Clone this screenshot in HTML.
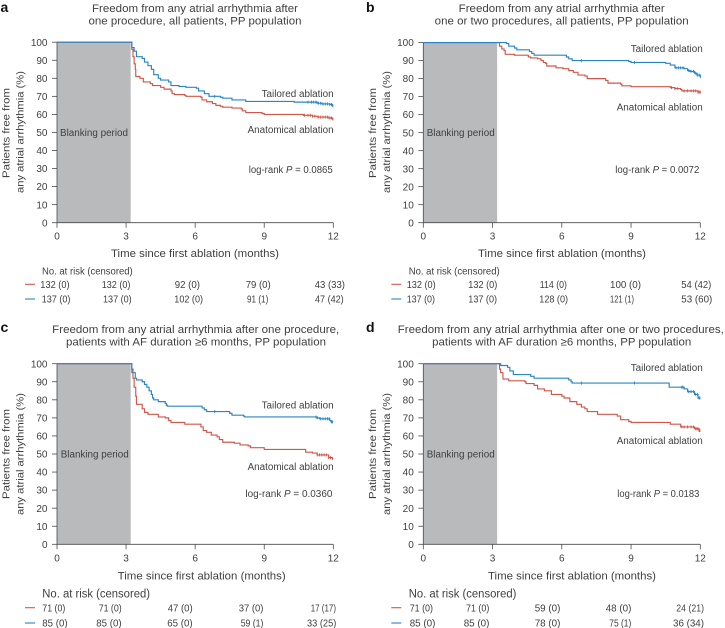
<!DOCTYPE html>
<html lang="en">
<head>
<meta charset="utf-8">
<title>Freedom from any atrial arrhythmia</title>
<style>
html,body{margin:0;padding:0;background:#fff;width:725px;height:628px;overflow:hidden}
svg{display:block}
text{font-family:"Liberation Sans",sans-serif;fill:#3f4042;font-size:10px}
.title{font-size:11px;text-anchor:middle}
.axt{font-size:11px;text-anchor:middle}
.ytl{font-size:10.5px;text-anchor:middle}
.ann{font-size:10px;text-anchor:end}
.bp{font-size:10px;text-anchor:middle}
.let{font-size:14px;font-weight:bold;fill:#111}
.risk{font-size:10px}
.riskb{font-size:10.5px}
</style>
</head>
<body>
<svg id="fig" xmlns="http://www.w3.org/2000/svg" width="725" height="628" viewBox="0 0 725 628">
<g id="panel-a">
<text class="let" x="0.5" y="12">a</text>
<text class="title" x="195" y="12" textLength="206" lengthAdjust="spacingAndGlyphs">Freedom from any atrial arrhythmia after</text>
<text class="title" x="195" y="24.5" textLength="213" lengthAdjust="spacingAndGlyphs">one procedure, all patients, PP population</text>
<text class="axt" x="195" y="257" textLength="168" lengthAdjust="spacingAndGlyphs">Time since first ablation (months)</text>
<text class="ytl" transform="translate(9.5,133) rotate(-90)" textLength="90" lengthAdjust="spacingAndGlyphs">Patients free from</text>
<text class="ytl" transform="translate(23.5,132) rotate(-90)" textLength="122" lengthAdjust="spacingAndGlyphs">any atrial arrhythmia (%)</text>
<text class="ann" x="333.6" y="97" textLength="72" lengthAdjust="spacingAndGlyphs">Tailored ablation</text>
<text class="ann" x="333.6" y="133" textLength="86" lengthAdjust="spacingAndGlyphs">Anatomical ablation</text>
<text class="ann" x="332.7" y="173" textLength="84" lengthAdjust="spacingAndGlyphs">log-rank <tspan font-style="italic">P</tspan> = 0.0865</text>
<text class="risk" x="42" y="274.5" textLength="90.7" lengthAdjust="spacingAndGlyphs">No. at risk (censored)</text>
<line x1="25" x2="35" y1="284.3" y2="284.3" stroke="#d0574a" stroke-width="1.1"/>
<line x1="25" x2="35" y1="299" y2="299" stroke="#2a85c6" stroke-width="1.1"/>
<text class="risk" x="40.3" y="288" textLength="29.3" lengthAdjust="spacingAndGlyphs">132 (0)</text>
<text class="risk" x="101.7" y="288" textLength="28.7" lengthAdjust="spacingAndGlyphs">132 (0)</text>
<text class="risk" x="174.7" y="288" textLength="25.3" lengthAdjust="spacingAndGlyphs">92 (0)</text>
<text class="risk" x="245.7" y="288" textLength="25" lengthAdjust="spacingAndGlyphs">79 (0)</text>
<text class="risk" x="314.7" y="288" textLength="30.3" lengthAdjust="spacingAndGlyphs">43 (33)</text>
<text class="risk" x="41.7" y="302.5" textLength="28.7" lengthAdjust="spacingAndGlyphs">137 (0)</text>
<text class="risk" x="103" y="302.5" textLength="28.7" lengthAdjust="spacingAndGlyphs">137 (0)</text>
<text class="risk" x="174.3" y="302.5" textLength="28.7" lengthAdjust="spacingAndGlyphs">102 (0)</text>
<text class="risk" x="247" y="302.5" textLength="21.3" lengthAdjust="spacingAndGlyphs">91 (1)</text>
<text class="risk" x="315" y="302.5" textLength="28.7" lengthAdjust="spacingAndGlyphs">47 (42)</text>
</g>
<g id="panel-b">
<text class="let" x="366" y="12">b</text>
<text class="title" x="561.7" y="12" textLength="206" lengthAdjust="spacingAndGlyphs">Freedom from any atrial arrhythmia after</text>
<text class="title" x="561.7" y="24.5" textLength="254" lengthAdjust="spacingAndGlyphs">one or two procedures, all patients, PP population</text>
<text class="axt" x="562" y="257" textLength="168" lengthAdjust="spacingAndGlyphs">Time since first ablation (months)</text>
<text class="ytl" transform="translate(376,133) rotate(-90)" textLength="90" lengthAdjust="spacingAndGlyphs">Patients free from</text>
<text class="ytl" transform="translate(390,132) rotate(-90)" textLength="122" lengthAdjust="spacingAndGlyphs">any atrial arrhythmia (%)</text>
<text class="ann" x="702.7" y="52" textLength="72" lengthAdjust="spacingAndGlyphs">Tailored ablation</text>
<text class="ann" x="702.7" y="110.5" textLength="86" lengthAdjust="spacingAndGlyphs">Anatomical ablation</text>
<text class="ann" x="699.3" y="173" textLength="84" lengthAdjust="spacingAndGlyphs">log-rank <tspan font-style="italic">P</tspan> = 0.0072</text>
<text class="risk" x="408.7" y="274.5" textLength="91" lengthAdjust="spacingAndGlyphs">No. at risk (censored)</text>
<line x1="391.3" x2="401.3" y1="284.3" y2="284.3" stroke="#d0574a" stroke-width="1.1"/>
<line x1="391.3" x2="401.3" y1="299" y2="299" stroke="#2a85c6" stroke-width="1.1"/>
<text class="risk" x="406.7" y="288" textLength="29" lengthAdjust="spacingAndGlyphs">132 (0)</text>
<text class="risk" x="468.3" y="288" textLength="29" lengthAdjust="spacingAndGlyphs">132 (0)</text>
<text class="risk" x="539.7" y="288" textLength="27.3" lengthAdjust="spacingAndGlyphs">114 (0)</text>
<text class="risk" x="610" y="288" textLength="31" lengthAdjust="spacingAndGlyphs">100 (0)</text>
<text class="risk" x="681.3" y="288" textLength="30" lengthAdjust="spacingAndGlyphs">54 (42)</text>
<text class="risk" x="406.7" y="302.5" textLength="28.3" lengthAdjust="spacingAndGlyphs">137 (0)</text>
<text class="risk" x="468.3" y="302.5" textLength="28.7" lengthAdjust="spacingAndGlyphs">137 (0)</text>
<text class="risk" x="539.3" y="302.5" textLength="28.7" lengthAdjust="spacingAndGlyphs">128 (0)</text>
<text class="risk" x="610" y="302.5" textLength="24" lengthAdjust="spacingAndGlyphs">121 (1)</text>
<text class="risk" x="681.3" y="302.5" textLength="31" lengthAdjust="spacingAndGlyphs">53 (60)</text>
</g>
<g id="panel-c">
<text class="let" x="0.5" y="332">c</text>
<text class="title" x="195.7" y="333" textLength="287" lengthAdjust="spacingAndGlyphs">Freedom from any atrial arrhythmia after one procedure,</text>
<text class="title" x="196" y="345.7" textLength="260" lengthAdjust="spacingAndGlyphs">patients with AF duration ≥6 months, PP population</text>
<text class="axt" x="201.7" y="579.5" textLength="168" lengthAdjust="spacingAndGlyphs">Time since first ablation (months)</text>
<text class="ytl" transform="translate(9.5,454) rotate(-90)" textLength="90" lengthAdjust="spacingAndGlyphs">Patients free from</text>
<text class="ytl" transform="translate(23.5,454) rotate(-90)" textLength="122" lengthAdjust="spacingAndGlyphs">any atrial arrhythmia (%)</text>
<text class="ann" x="333.6" y="408.5" textLength="72" lengthAdjust="spacingAndGlyphs">Tailored ablation</text>
<text class="ann" x="333.6" y="470" textLength="86" lengthAdjust="spacingAndGlyphs">Anatomical ablation</text>
<text class="ann" x="332.4" y="497" textLength="87" lengthAdjust="spacingAndGlyphs">log-rank  <tspan font-style="italic">P</tspan> = 0.0360</text>
<text class="riskb" x="42.3" y="597.5" textLength="107.7" lengthAdjust="spacingAndGlyphs" style="font-size:11.5px">No. at risk (censored)</text>
<line x1="25" x2="35" y1="607.7" y2="607.7" stroke="#d0574a" stroke-width="1.1"/>
<line x1="25" x2="35" y1="623" y2="623" stroke="#2a85c6" stroke-width="1.1"/>
<text class="riskb" x="42.3" y="611.5" textLength="23" lengthAdjust="spacingAndGlyphs">71 (0)</text>
<text class="riskb" x="98.7" y="611.5" textLength="23" lengthAdjust="spacingAndGlyphs">71 (0)</text>
<text class="riskb" x="167.7" y="611.5" textLength="25" lengthAdjust="spacingAndGlyphs">47 (0)</text>
<text class="riskb" x="238.7" y="611.5" textLength="24.7" lengthAdjust="spacingAndGlyphs">37 (0)</text>
<text class="riskb" x="310.7" y="611.5" textLength="25.3" lengthAdjust="spacingAndGlyphs">17 (17)</text>
<text class="riskb" x="42.3" y="626.7" textLength="25.3" lengthAdjust="spacingAndGlyphs">85 (0)</text>
<text class="riskb" x="96.3" y="626.7" textLength="25.3" lengthAdjust="spacingAndGlyphs">85 (0)</text>
<text class="riskb" x="167.3" y="626.7" textLength="25.3" lengthAdjust="spacingAndGlyphs">65 (0)</text>
<text class="riskb" x="240.7" y="626.7" textLength="22.7" lengthAdjust="spacingAndGlyphs">59 (1)</text>
<text class="riskb" x="307" y="626.7" textLength="29.3" lengthAdjust="spacingAndGlyphs">33 (25)</text>
</g>
<g id="panel-d">
<text class="let" x="366" y="332">d</text>
<text class="title" x="560.8" y="333" textLength="326" lengthAdjust="spacingAndGlyphs">Freedom from any atrial arrhythmia after one or two procedures,</text>
<text class="title" x="561.7" y="345.7" textLength="259" lengthAdjust="spacingAndGlyphs">patients with AF duration ≥6 months, PP population</text>
<text class="axt" x="572" y="579.5" textLength="168" lengthAdjust="spacingAndGlyphs">Time since first ablation (months)</text>
<text class="ytl" transform="translate(376,454) rotate(-90)" textLength="90" lengthAdjust="spacingAndGlyphs">Patients free from</text>
<text class="ytl" transform="translate(390,454) rotate(-90)" textLength="122" lengthAdjust="spacingAndGlyphs">any atrial arrhythmia (%)</text>
<text class="ann" x="702.7" y="371" textLength="72" lengthAdjust="spacingAndGlyphs">Tailored ablation</text>
<text class="ann" x="702.7" y="444" textLength="86" lengthAdjust="spacingAndGlyphs">Anatomical ablation</text>
<text class="ann" x="699.3" y="497" textLength="82" lengthAdjust="spacingAndGlyphs">log-rank <tspan font-style="italic">P</tspan> = 0.0183</text>
<text class="riskb" x="408.7" y="597.5" textLength="107.7" lengthAdjust="spacingAndGlyphs" style="font-size:11.5px">No. at risk (censored)</text>
<line x1="391.3" x2="401.3" y1="607.7" y2="607.7" stroke="#d0574a" stroke-width="1.1"/>
<line x1="391.3" x2="401.3" y1="623" y2="623" stroke="#2a85c6" stroke-width="1.1"/>
<text class="riskb" x="409.7" y="611.5" textLength="23.3" lengthAdjust="spacingAndGlyphs">71 (0)</text>
<text class="riskb" x="466" y="611.5" textLength="23.3" lengthAdjust="spacingAndGlyphs">71 (0)</text>
<text class="riskb" x="534.7" y="611.5" textLength="25.7" lengthAdjust="spacingAndGlyphs">59 (0)</text>
<text class="riskb" x="605.7" y="611.5" textLength="25.7" lengthAdjust="spacingAndGlyphs">48 (0)</text>
<text class="riskb" x="676.3" y="611.5" textLength="27.7" lengthAdjust="spacingAndGlyphs">24 (21)</text>
<text class="riskb" x="409.7" y="626.7" textLength="25.7" lengthAdjust="spacingAndGlyphs">85 (0)</text>
<text class="riskb" x="463.7" y="626.7" textLength="25.7" lengthAdjust="spacingAndGlyphs">85 (0)</text>
<text class="riskb" x="534.7" y="626.7" textLength="25.7" lengthAdjust="spacingAndGlyphs">78 (0)</text>
<text class="riskb" x="609.3" y="626.7" textLength="22" lengthAdjust="spacingAndGlyphs">75 (1)</text>
<text class="riskb" x="673" y="626.7" textLength="31" lengthAdjust="spacingAndGlyphs">36 (34)</text>
</g>
</svg>
<script>
const xTicks = [0, 3, 6, 9, 12];
const yTicks = [0, 10, 20, 30, 40, 50, 60, 70, 80, 90, 100];
const blankingEnd = 3.2;
const blankingLabel = "Blanking period";

const aAnatomicalTimes = [0,3.2,3.25,3.3,3.35,3.4,3.42,3.6,3.75,4.05,4.15,4.5,4.65,4.95,5,5.1,5.55,5.6,6.25,6.3,6.5,6.75,6.9,7.1,7.2,7.6,8,8.05,8.2,8.9,9,10.7,11.1,11.3,11.8,11.95,12];
const aAnatomicalValues = [100,100,96,92,88,85,81,80,78,77,76,75,74,73,71.5,71,70.5,70,69.5,68,67,66,65,64.5,64,63.5,63,62,61,60.5,60,59.5,59,58.5,58,57.5,57.5];
const aAnatomicalCensored = [10.75,10.9,11,11.1,11.2,11.35,11.45,11.55,11.65,11.75,11.85,11.92,11.98];
const aTailoredTimes = [0,3.2,3.25,3.35,3.45,3.7,3.8,3.95,4.1,4.2,4.4,4.5,4.85,4.95,5.3,5.6,6.05,6.15,6.4,6.6,7.1,7.2,7.6,8.2,10.3,11.3,11.5,11.85,11.95,12];
const aTailoredValues = [100,100,97,95,92,91,89,87,85,82,80,79,78,76,75.5,75,74.5,73,71.5,70,69.5,69,68,67.2,66.8,66.2,65.8,65.5,64.8,64.8];
const aTailoredCensored = [6.85,10.9,11.05,11.15,11.25,11.35,11.45,11.55,11.65,11.75,11.85,11.92,11.98];

const bAnatomicalTimes = [0,3.2,3.3,3.4,3.5,3.55,3.95,4.55,4.65,4.95,5.1,5.2,5.3,5.35,5.75,6.05,6.3,6.5,6.7,7,7.1,7.9,8,8.55,8.6,9,10.7,10.9,11.15,11.2,11.9,12];
const bAnatomicalValues = [100,100,98,96.5,95.5,93.5,93,92,91.5,91,90,89,88.5,87,86,85.5,84.5,83.5,82,81.5,80,79,77.5,77,76,75.5,75,74.5,74,73.2,72.5,72.5];
const bAnatomicalCensored = [10.75,10.9,11,11.3,11.45,11.6,11.7,11.8,11.9,11.95,12];
const bTailoredTimes = [0,3.2,3.6,3.7,3.95,4.05,4.6,4.7,4.8,6.2,6.3,6.45,8.9,9,10.5,10.7,10.9,11.3,11.45,11.55,11.75,11.85,12];
const bTailoredValues = [100,100,99.5,98,97,96,95,94,93,92,91,90,89.5,89,88.5,87.5,86,85.5,84.5,84,83,82,81];
const bTailoredCensored = [6.85,9.15,10.95,11.05,11.15,11.25,11.5,11.6,11.7,11.8,11.88,11.95,12];

const cAnatomicalTimes = [0,3.2,3.25,3.3,3.35,3.42,3.45,3.7,3.8,3.95,4.4,4.7,4.85,4.95,5.55,6.25,6.35,6.5,6.7,6.95,7.05,7.2,7.7,7.95,8.3,8.4,9,10.8,11.1,11.3,11.8,11.95,12];
const cAnatomicalValues = [100,100,95,92,87,82,77.5,75,73,72,70.5,70,68.5,67.5,66.5,65,63,62,60.5,59.5,58,56.5,56,55,54.5,53.5,52.5,51,50.5,49.5,48,47.5,47.5];
const cAnatomicalCensored = [11.3,11.4,11.5,11.6,11.7,11.8,11.88,11.96];
const cTailoredTimes = [0,3.2,3.25,3.3,3.4,3.45,3.7,3.8,3.9,4,4.1,4.15,4.2,4.4,4.7,4.75,4.8,6.3,6.4,6.5,7.5,7.6,8.1,8.15,11.3,11.4,11.85,11.9,12];
const cTailoredValues = [100,100,97,95,92,91,90,88.5,87,85,83,81,80,79,78,77,76.5,75.5,74.5,73.5,72.5,71.5,71,70.5,70,69.5,68.5,67.8,67.8];
const cTailoredCensored = [6.85,11.25,11.3,11.45,11.55,11.65,11.75,11.82,11.92,11.96];

const dAnatomicalTimes = [0,3.2,3.3,3.35,3.45,3.7,4.4,4.45,4.8,4.95,5.25,5.55,6,6.1,6.35,6.65,6.85,7,7.1,7.55,8.4,8.55,8.9,9,10.7,11.15,11.75,11.95,12];
const dAnatomicalValues = [100,100,97,95,91.5,90.5,90,89,88,86,85,83,82,81,79,77.5,76,75,73.5,72,71,69,68,67.5,66.5,65,64,63,63];
const dAnatomicalCensored = [11.2,11.3,11.45,11.6,11.7,11.8,11.85,11.9,11.95,11.98];
const dTailoredTimes = [0,3.2,3.35,3.65,3.75,3.9,4.65,4.8,6.3,6.4,6.45,10.65,11.2,11.3,11.45,11.75,11.9,12];
const dTailoredValues = [100,100,99,98,96,94,93,92,91,90,89.3,87,87,86,84.5,83,81,81];
const dTailoredCensored = [6.85,9.15,11.2,11.25,11.5,11.6,11.7,11.8,11.88,11.95,11.98];

const SVG_NS = "http://www.w3.org/2000/svg";
const RED = "#d0574a";
const BLUE = "#2a85c6";
const INK = "#4a4b4d";

function make(tag, parent) {
  const el = document.createElementNS(SVG_NS, tag);
  parent.appendChild(el);
  return el;
}
function valueAt(times, values, t) {
  let v = values[0];
  for (let i = 0; i < times.length; i++) { if (times[i] <= t) v = values[i]; }
  return v;
}
function drawSeries(parent, letter, seriesKey, color, times, values, censored, xScale, yScale) {
  let d = "M" + xScale(times[0]).toFixed(2) + " " + yScale(values[0]).toFixed(2);
  for (let i = 1; i < times.length; i++) {
    d += "H" + xScale(times[i]).toFixed(2) + "V" + yScale(values[i]).toFixed(2);
  }
  const line = make("path", parent);
  
  
  line.setAttribute("d", d);
  line.setAttribute("fill", "none");
  line.setAttribute("stroke", color);
  line.setAttribute("stroke-width", "1.15");
  censored.forEach(function (t) {
    const yv = yScale(valueAt(times, values, t));
    const mark = make("line", parent);
    
    
    mark.setAttribute("x1", xScale(t));
    mark.setAttribute("x2", xScale(t));
    mark.setAttribute("y1", yv - 1.5);
    mark.setAttribute("y2", yv + 1.5);
    mark.setAttribute("stroke", color);
    mark.setAttribute("stroke-width", "0.9");
  });
}
function drawPanel(letter, left, right, top, bottom, labelCenter, labelBase, aT, aV, aC, tT, tV, tC) {
  const parent = document.getElementById("panel-" + letter);
  const xScale = function (t) { return left + (right - left) * t / 12; };
  const yScale = function (v) { return bottom - (bottom - top) * v / 100; };

  const blank = make("rect", parent);
  
  
  blank.setAttribute("x", xScale(0));
  blank.setAttribute("y", yScale(100));
  blank.setAttribute("width", xScale(blankingEnd) - xScale(0));
  blank.setAttribute("height", yScale(0) - yScale(100));
  blank.setAttribute("fill", "#b9babc");

  const blankText = make("text", parent);
  
  
  blankText.setAttribute("class", "bp");
  blankText.setAttribute("x", labelCenter);
  blankText.setAttribute("y", labelBase);
  blankText.setAttribute("textLength", "68");
  blankText.setAttribute("lengthAdjust", "spacingAndGlyphs");
  blankText.textContent = blankingLabel;

  const yAxis = make("line", parent);
  
  
  yAxis.setAttribute("x1", left);
  yAxis.setAttribute("x2", left);
  yAxis.setAttribute("y1", yScale(100));
  yAxis.setAttribute("y2", yScale(0));
  yAxis.setAttribute("stroke", INK);
  yAxis.setAttribute("stroke-width", "0.8");

  const xAxis = make("line", parent);
  
  
  xAxis.setAttribute("x1", xScale(0));
  xAxis.setAttribute("x2", xScale(12));
  xAxis.setAttribute("y1", yScale(0));
  xAxis.setAttribute("y2", yScale(0));
  xAxis.setAttribute("stroke", INK);
  xAxis.setAttribute("stroke-width", "0.8");

  yTicks.forEach(function (v) {
    const tick = make("line", parent);
    
    
    tick.setAttribute("x1", left - 5);
    tick.setAttribute("x2", left);
    tick.setAttribute("y1", yScale(v));
    tick.setAttribute("y2", yScale(v));
    tick.setAttribute("stroke", INK);
    tick.setAttribute("stroke-width", "0.8");
    const label = make("text", parent);
    
    
    label.setAttribute("x", left - 9.5);
    label.setAttribute("y", yScale(v) + 3.6);
    label.setAttribute("text-anchor", "end");
    label.textContent = String(v);
  });
  xTicks.forEach(function (t) {
    const tick = make("line", parent);
    
    
    tick.setAttribute("x1", xScale(t));
    tick.setAttribute("x2", xScale(t));
    tick.setAttribute("y1", yScale(0));
    tick.setAttribute("y2", yScale(0) + 5);
    tick.setAttribute("stroke", INK);
    tick.setAttribute("stroke-width", "0.8");
    const label = make("text", parent);
    
    
    label.setAttribute("x", xScale(t));
    label.setAttribute("y", yScale(0) + 17);
    label.setAttribute("text-anchor", "middle");
    label.textContent = String(t);
  });
  drawSeries(parent, letter, "anatomical", RED, aT, aV, aC, xScale, yScale);
  drawSeries(parent, letter, "tailored", BLUE, tT, tV, tC, xScale, yScale);
}
drawPanel("a", 57, 333.3, 42.2, 222.7, 94, 136, aAnatomicalTimes, aAnatomicalValues, aAnatomicalCensored, aTailoredTimes, aTailoredValues, aTailoredCensored);
drawPanel("b", 423.3, 700.3, 42.6, 222.7, 460.7, 136, bAnatomicalTimes, bAnatomicalValues, bAnatomicalCensored, bTailoredTimes, bTailoredValues, bTailoredCensored);
drawPanel("c", 57, 333.3, 363.7, 544.3, 94.7, 457.7, cAnatomicalTimes, cAnatomicalValues, cAnatomicalCensored, cTailoredTimes, cTailoredValues, cTailoredCensored);
drawPanel("d", 423.3, 700.3, 363.7, 544.3, 460.7, 457.7, dAnatomicalTimes, dAnatomicalValues, dAnatomicalCensored, dTailoredTimes, dTailoredValues, dTailoredCensored);
</script>
</body>
</html>
